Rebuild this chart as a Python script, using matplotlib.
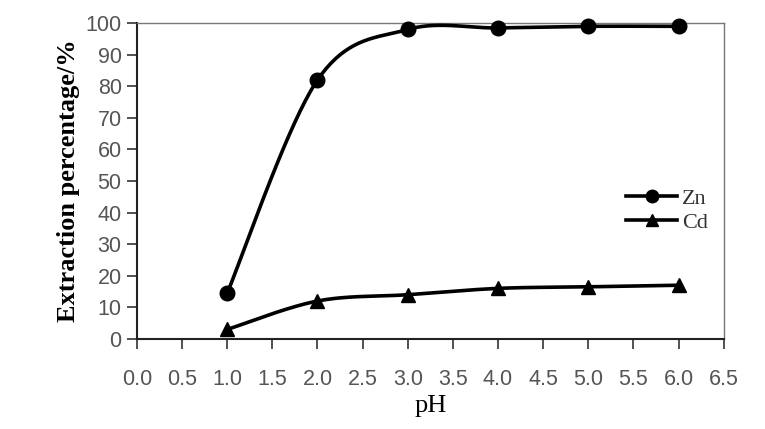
import numpy as np
import matplotlib.pyplot as plt
from matplotlib.lines import Line2D

ph = [1.0, 2.0, 3.0, 4.0, 5.0, 6.0]
zn = [14.5, 82.0, 98.0, 98.5, 99.0, 99.0]
cd = [3.0, 12.0, 14.0, 16.0, 16.5, 17.0]
xticks = [0.0, 0.5, 1.0, 1.5, 2.0, 2.5, 3.0, 3.5, 4.0, 4.5, 5.0, 5.5, 6.0, 6.5]
yticks = [0, 10, 20, 30, 40, 50, 60, 70, 80, 90, 100]


def smooth(x, y, n=40):
    # Excel-style smoothed line: cubic Bezier with Catmull-Rom tangents
    p = np.column_stack([x, y]).astype(float)
    ext = np.vstack([p[0], p, p[-1]])
    out = []
    t = np.linspace(0, 1, n)[:, None]
    for i in range(len(p) - 1):
        p0, p3 = ext[i + 1], ext[i + 2]
        p1 = p0 + (ext[i + 2] - ext[i]) / 6
        p2 = p3 - (ext[i + 3] - ext[i + 1]) / 6
        seg = ((1 - t) ** 3) * p0 + 3 * ((1 - t) ** 2) * t * p1 + 3 * (1 - t) * t ** 2 * p2 + t ** 3 * p3
        out.append(seg)
    s = np.vstack(out)
    return s[:, 0], s[:, 1]


fig = plt.figure(figsize=(7.65, 4.29), dpi=100)
ax = fig.add_axes([0.179, 0.21, 0.767, 0.736])

for vals, mk, ms in [(zn, 'o', 10.5), (cd, '^', 10)]:
    sx, sy = smooth(ph, vals)
    ax.plot(sx, sy, color='black', lw=2.6, clip_on=False, zorder=3)
    ax.plot(ph, vals, ls='none', marker=mk, ms=ms, color='black', clip_on=False, zorder=4)

ax.set_xlim(0, 6.5)
ax.set_ylim(0, 100)
ax.set_xticks(xticks)
ax.set_xticklabels([f'{v:.1f}' for v in xticks])
ax.set_yticks(yticks)

for lab in ax.get_xticklabels() + ax.get_yticklabels():
    lab.set_fontfamily('Liberation Sans')
    lab.set_fontsize(15.5)
    lab.set_color('#555555')
ax.tick_params(axis='x', direction='out', length=7, width=1.2, pad=15, color='#333333')
ax.tick_params(axis='y', direction='out', length=7, width=1.2, pad=4, color='#333333')

for side in ['left', 'bottom']:
    ax.spines[side].set_linewidth(1.5)
    ax.spines[side].set_color('#222222')
for side in ['top', 'right']:
    ax.spines[side].set_linewidth(1.0)
    ax.spines[side].set_color('#777777')

ax.set_xlabel('pH', family='Liberation Serif', size=19, labelpad=3)
ax.set_ylabel('Extraction percentage/%', family='Liberation Serif', size=19,
              fontweight='bold', labelpad=4)

handles = [Line2D([], [], color='black', lw=2.6, marker='o', ms=9),
           Line2D([], [], color='black', lw=2.6, marker='^', ms=8)]
leg = ax.legend(handles, ['Zn', 'Cd'], loc='upper left', bbox_to_anchor=(0.8, 0.54),
                frameon=False, handlelength=2.3, handletextpad=0.2, labelspacing=0.15,
                prop=dict(family='Liberation Serif', size=16))
for t in leg.get_texts():
    t.set_color('#333333')

fig.savefig('out.png', dpi=100)
